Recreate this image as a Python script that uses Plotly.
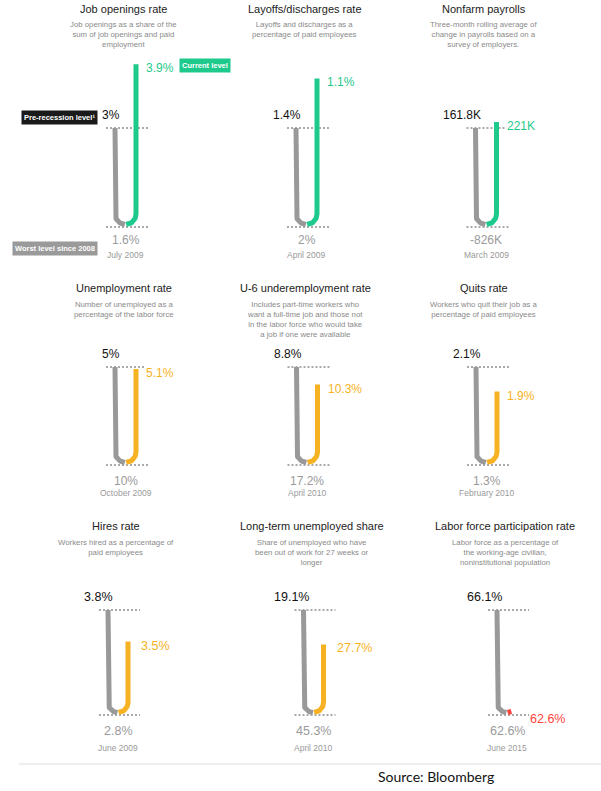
import math
import plotly.graph_objects as go

# ---------------- data ----------------
titles = ["Job openings rate", "Layoffs/discharges rate", "Nonfarm payrolls",
          "Unemployment rate", "U-6 underemployment rate", "Quits rate",
          "Hires rate", "Long-term unemployed share", "Labor force participation rate"]
subtitles = [
    "Job openings as a share of the<br>sum of job openings and paid<br>employment",
    "Layoffs and discharges as a<br>percentage of paid employees",
    "Three-month rolling average of<br>change in payrolls based on a<br>survey of employers.",
    "Number of unemployed as a<br>percentage of the labor force",
    "Includes part-time workers who<br>want a full-time job and those not<br>in the labor force who would take<br>a job if one were available",
    "Workers who quit their job as a<br>percentage of paid employees",
    "Workers hired as a percentage of<br>paid employees",
    "Share of unemployed who have<br>been out of work for 27 weeks or<br>longer",
    "Labor force as a percentage of<br>the working-age civilian,<br>noninstitutional population",
]
pre_values = [3.0, 1.4, 161.8, 5.0, 8.8, 2.1, 3.8, 19.1, 66.1]
worst_values = [1.6, 2.0, -826.0, 10.0, 17.2, 1.3, 2.8, 45.3, 62.6]
current_values = [3.9, 1.1, 221.0, 5.1, 10.3, 1.9, 3.5, 27.7, 62.6]
pre_labels = ["3%", "1.4%", "161.8K", "5%", "8.8%", "2.1%", "3.8%", "19.1%", "66.1%"]
worst_labels = ["1.6%", "2%", "-826K", "10%", "17.2%", "1.3%", "2.8%", "45.3%", "62.6%"]
current_labels = ["3.9%", "1.1%", "221K", "5.1%", "10.3%", "1.9%", "3.5%", "27.7%", "62.6%"]
worst_dates = ["July 2009", "April 2009", "March 2009", "October 2009", "April 2010",
               "February 2010", "June 2009", "April 2010", "June 2015"]
status = ["above", "above", "above", "below", "below", "below", "below", "below", "worst"]

# ---------------- style / layout ----------------
W, H = 601, 791
FONT = "Liberation Sans"
status_color = {"above": "#1EC98C", "below": "#F7B223", "worst": "#FF433D"}
GRAY = "#999999"
centers_x = [125.5, 306.5, 486, 125.5, 307, 486.5, 118, 313.5, 507]
row_top = [128, 367, 610]
row_bot = [227, 465, 715]
row_gap = [21, 21, 20]
row_title_y = [9, 288, 526]
row_sub_y = [24, 304, 542]
row_worst_shift = [-13, -16, -16]
row_date_shift = [-28, -28, -33]
row_cur_dx = [9, 9, 12]
row_font = [12, 12, 12.5]
LW = 5
HB = 2.5       # px lift of the U bottom above the worst line
HALF = 88


def px(x):
    return x / W


def py(y):
    return 1 - y / H


fig = go.Figure()
annotations = []

for i in range(9):
    r = i // 3
    cx = centers_x[i]
    top, bot, g = row_top[r], row_bot[r], row_gap[r]
    R = g / 2
    pre, worst, cur = pre_values[i], worst_values[i], current_values[i]
    u = (pre - worst) / (bot - top)          # value per pixel
    col = status_color[status[i]]

    def val(h):
        return worst + h * u

    x0px, x1px = max(cx - HALF, 0), min(cx + HALF, W)
    top_px, bot_px = bot - 185, bot + 8
    ax = "" if i == 0 else str(i + 1)
    fig.layout["xaxis" + ax] = dict(domain=[px(x0px), px(x1px)], range=[x0px - cx, x1px - cx],
                                    visible=False, fixedrange=True)
    fig.layout["yaxis" + ax] = dict(domain=[py(bot_px), py(top_px)],
                                    range=[worst - 8 * u, worst + 185 * u],
                                    visible=False, fixedrange=True)
    xr, yr = "x" + ax, "y" + ax

    # dotted guide lines
    for v in (pre, worst):
        fig.add_trace(go.Scatter(x=[-R - 9, R + 12], y=[v, v], mode="lines",
                                 line=dict(color="#555555", width=1, dash="2px,2px"),
                                 xaxis=xr, yaxis=yr, hoverinfo="skip", showlegend=False))

    # gray path: pre-recession level down to worst
    d = 0.06
    n = 24
    gx, gy = [-R, -R], [pre, val(HB + R)]
    for k in range(n + 1):
        t = math.pi + (math.pi / 2 - d) * k / n
        gx.append(R * math.cos(t))
        gy.append(val(HB + R + R * math.sin(t)))
    fig.add_trace(go.Scatter(x=gx, y=gy, mode="lines", line=dict(color=GRAY, width=LW),
                             xaxis=xr, yaxis=yr, hoverinfo="skip", showlegend=False))

    # coloured path: worst back up to current level
    hc = (cur - worst) / u
    cxs, cys = [], []
    t_end = 2 * math.pi if hc > HB + R else 1.5 * math.pi + 0.45
    for k in range(n + 1):
        t = 1.5 * math.pi + d + (t_end - 1.5 * math.pi - d) * k / n
        cxs.append(R * math.cos(t))
        cys.append(val(HB + R + R * math.sin(t)))
    if hc > HB + R:
        cxs.append(R)
        cys.append(cur)
    fig.add_trace(go.Scatter(x=cxs, y=cys, mode="lines", line=dict(color=col, width=LW),
                             xaxis=xr, yaxis=yr, hoverinfo="skip", showlegend=False))

    fs = row_font[r]
    annotations += [
        dict(xref=xr, yref=yr, x=-R + 7, y=pre, text=pre_labels[i], showarrow=False,
             xanchor="right", yanchor="middle", yshift=13,
             font=dict(family=FONT, size=fs, color="#111111")),
        dict(xref=xr, yref=yr, x=R + row_cur_dx[r], y=cur, text=current_labels[i], showarrow=False,
             xanchor="left", yanchor="middle", yshift=-4, bgcolor="white", borderpad=0,
             font=dict(family=FONT, size=fs, color=col)),
        dict(xref=xr, yref=yr, x=0, y=worst, text=worst_labels[i], showarrow=False,
             xanchor="center", yanchor="middle", yshift=row_worst_shift[r],
             font=dict(family=FONT, size=fs, color="#9A9A9A")),
        dict(xref=xr, yref=yr, x=0, y=worst, text=worst_dates[i], showarrow=False,
             xanchor="center", yanchor="middle", yshift=row_date_shift[r],
             font=dict(family=FONT, size=8.5, color="#9A9A9A")),
        dict(xref="paper", yref="paper", x=px(cx - 2), y=py(row_title_y[r]),
             text=titles[i], showarrow=False, xanchor="center", yanchor="middle",
             font=dict(family=FONT, size=11, color="#222222")),
        dict(xref="paper", yref="paper", x=px(cx - 2), y=py(row_sub_y[r] - 6),
             text=subtitles[i], showarrow=False, xanchor="center", yanchor="top",
             font=dict(family=FONT, size=7.8, color="#8A8A8A")),
    ]

# key boxes
annotations += [
    dict(xref="paper", yref="paper", x=px(98), y=py(117), text="<b>Pre-recession level¹</b>",
         showarrow=False, xanchor="right", yanchor="middle", bgcolor="#1A1A1A", borderpad=2,
         font=dict(family=FONT, size=7.5, color="white")),
    dict(xref="paper", yref="paper", x=px(98), y=py(248.5), text="<b>Worst level since 2008</b>",
         showarrow=False, xanchor="right", yanchor="middle", bgcolor="#9A9A9A", borderpad=2,
         font=dict(family=FONT, size=7.5, color="white")),
    dict(xref="paper", yref="paper", x=px(179), y=py(65.5), text="<b>Current level</b>",
         showarrow=False, xanchor="left", yanchor="middle", bgcolor=status_color["above"], borderpad=2,
         font=dict(family=FONT, size=7.5, color="white")),
    dict(xref="paper", yref="paper", x=px(436), y=py(776), text="Source: Bloomberg",
         showarrow=False, xanchor="center", yanchor="middle",
         font=dict(family="Lato", size=14, color="#111111")),
]

fig.update_layout(
    width=W, height=H, margin=dict(l=0, r=0, t=0, b=0),
    paper_bgcolor="white", plot_bgcolor="rgba(0,0,0,0)",
    showlegend=False, annotations=annotations, hovermode=False,
    shapes=[dict(type="line", xref="paper", yref="paper", x0=px(19), x1=1, y0=py(764), y1=py(764),
                 line=dict(color="#DDDDDD", width=1))],
)
fig.write_html("out.html", config={"displayModeBar": False},
               post_script="document.body.style.margin='0px';")
